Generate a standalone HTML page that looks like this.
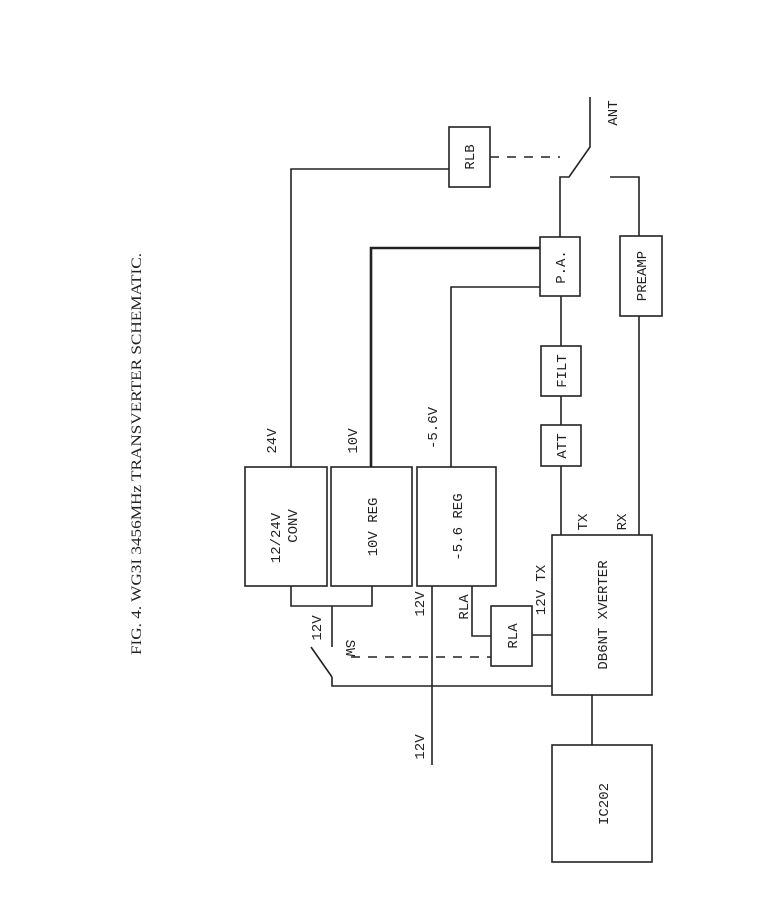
<!DOCTYPE html>
<html><head><meta charset="utf-8"><style>
html,body{margin:0;padding:0;background:#fff;}
svg{display:block;}
.t{font-family:"Liberation Mono",monospace;font-size:14px;fill:#222;}
</style></head><body>
<svg width="768" height="899" viewBox="0 0 768 899" xmlns="http://www.w3.org/2000/svg">
<rect width="768" height="899" fill="#fff"/>
<g stroke="#222" stroke-width="1.6" fill="none">
<rect x="245" y="467" width="82" height="119"/>
<rect x="331" y="467" width="81" height="119"/>
<rect x="417" y="467" width="79" height="119"/>
<rect x="552" y="535" width="100" height="160"/>
<rect x="552" y="745" width="100" height="117"/>
<rect x="491" y="606" width="41" height="60"/>
<rect x="541" y="425" width="40" height="41"/>
<rect x="541" y="346" width="40" height="50"/>
<rect x="540" y="237" width="40" height="59"/>
<rect x="620" y="236" width="42" height="80"/>
<rect x="449" y="127" width="41" height="60"/>
<polyline points="291,467 291,169 449,169"/>
<polyline points="451,467 451,287 540,287"/>
<line x1="561" y1="535" x2="561" y2="466"/>
<line x1="561" y1="425" x2="561" y2="396"/>
<line x1="561" y1="346" x2="561" y2="296"/>
<polyline points="560,237 560,177 569,177 590,147 590,97"/>
<polyline points="610,177 639,177 639,236"/>
<line x1="639" y1="316" x2="639" y2="535"/>
<polyline points="291,586 291,606 372,606 372,586"/>
<line x1="332" y1="606" x2="332" y2="647"/>
<line x1="311" y1="647" x2="332" y2="677"/>
<polyline points="332,677 332,686 552,686"/>
<line x1="432" y1="586" x2="432" y2="765"/>
<polyline points="472,586 472,636 491,636"/>
<line x1="532" y1="635" x2="552" y2="635"/>
<line x1="592" y1="695" x2="592" y2="745"/>
<line x1="351" y1="657" x2="491" y2="657" stroke-dasharray="9,8"/>
<line x1="490" y1="157" x2="560" y2="157" stroke-dasharray="9,8"/>
</g>
<polyline points="371,467 371,248 540,248" stroke="#222" stroke-width="2.6" fill="none"/>
<g class="t" text-anchor="middle">
<text transform="translate(280,538) rotate(-90)">12/24V</text>
<text transform="translate(297,526) rotate(-90)">CONV</text>
<text transform="translate(377,527) rotate(-90)">10V REG</text>
<text transform="translate(462,527) rotate(-90)">-5.6 REG</text>
<text transform="translate(607,615) rotate(-90)">DB6NT XVERTER</text>
<text transform="translate(608,804) rotate(-90)">IC202</text>
<text transform="translate(517,636) rotate(-90)">RLA</text>
<text transform="translate(566,446) rotate(-90)">ATT</text>
<text transform="translate(566,371) rotate(-90)">FILT</text>
<text transform="translate(565,267) rotate(-90)">P.A.</text>
<text transform="translate(646,276) rotate(-90)">PREAMP</text>
<text transform="translate(474,157) rotate(-90)">RLB</text>
<text transform="translate(617,113) rotate(-90)">ANT</text>
<text transform="translate(276,441) rotate(-90)">24V</text>
<text transform="translate(357,441) rotate(-90)">10V</text>
<text transform="translate(437,428) rotate(-90)">-5.6V</text>
<text transform="translate(321,628) rotate(-90)">12V</text>
<text transform="translate(346,648) rotate(90)">SW</text>
<text transform="translate(424,604) rotate(-90)">12V</text>
<text transform="translate(468,607) rotate(-90)">RLA</text>
<text transform="translate(545,590) rotate(-90)">12V TX</text>
<text transform="translate(587,522) rotate(-90)">TX</text>
<text transform="translate(626,522) rotate(-90)">RX</text>
<text transform="translate(424,747) rotate(-90)">12V</text>
</g>
<text transform="translate(141,454) rotate(-90)" text-anchor="middle" textLength="402" lengthAdjust="spacingAndGlyphs" style="font-family:'Liberation Serif',serif;font-size:15px;fill:#222;">FIG. 4. WG3I 3456MHz TRANSVERTER SCHEMATIC.</text>
</svg>
</body></html>
